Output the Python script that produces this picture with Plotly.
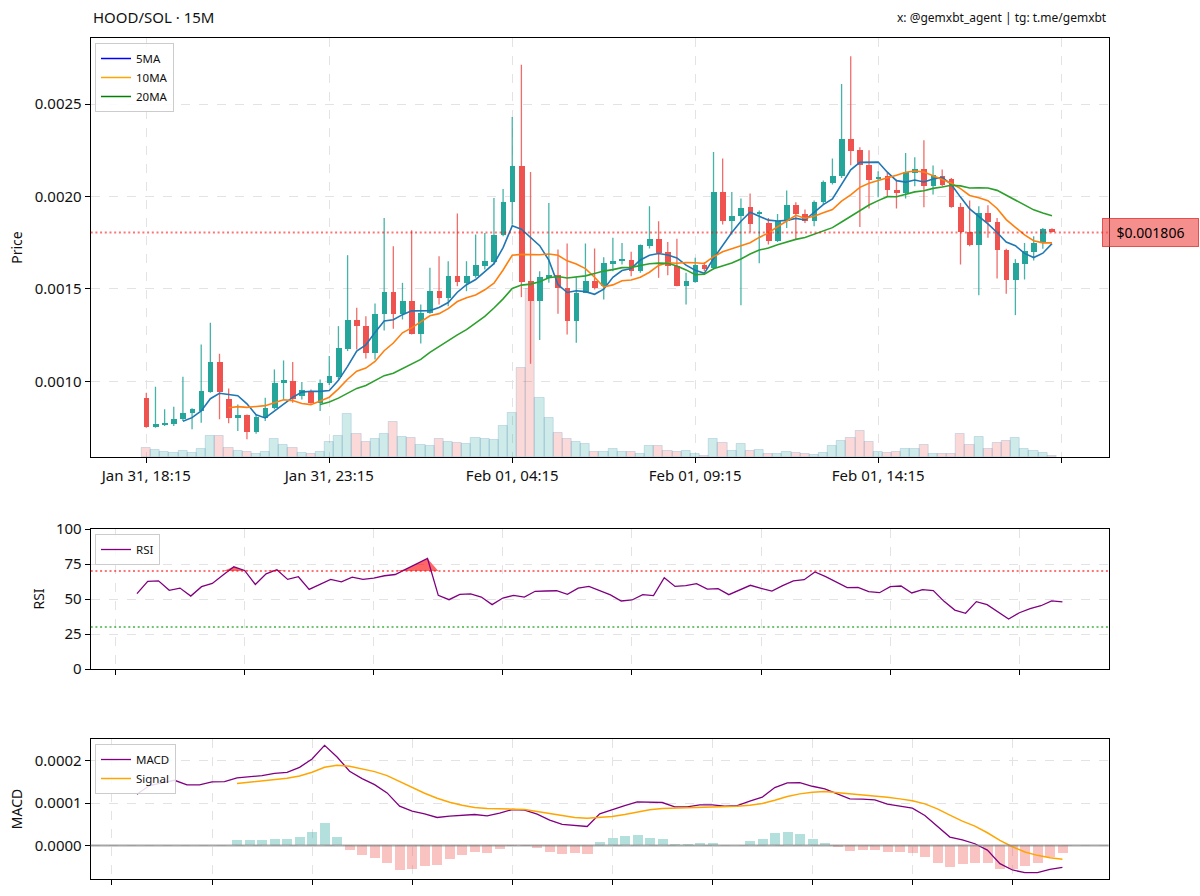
import numpy as np
import pandas as pd
import plotly.graph_objects as go

# ---------------- data ----------------
title_text = "HOOD/SOL · 15M"
credit_text = "x: @gemxbt_agent | tg: t.me/gemxbt"
x_tick_pos = [0, 20, 40, 60, 80, 100]
x_tick_labels = ["Jan 31, 18:15", "Jan 31, 23:15", "Feb 01, 04:15",
                 "Feb 01, 09:15", "Feb 01, 14:15", ""]

# prices in micro units (x 1e-6)
open_u = [908.1, 753.2, 764.0, 771.2, 794.6, 830.6, 839.6, 944.1, 1106.3, 906.3,
          800.0, 818.0, 726.1, 803.6, 857.7, 991.0, 1001.8, 920.7, 947.7, 881.1,
          989.2, 1025.2, 1173.0, 1329.7, 1297.3, 1155.0, 1365.8, 1484.7, 1362.2, 1434.2,
          1257.7, 1369.4, 1488.3, 1448.6, 1569.4, 1533.3, 1569.4, 1627.0, 1646.8, 1794.6,
          1969.4, 2164.0, 1542.3, 1434.2, 1560.4, 1578.4, 1502.7, 1326.1, 1479.3, 1542.3,
          1515.3, 1636.0, 1650.4, 1659.5, 1596.4, 1731.5, 1769.4, 1700.9, 1623.4, 1515.3,
          1538.7, 1632.4, 1614.4, 2025.2, 1866.7, 1893.7, 1942.3, 1908.1, 1857.7, 1762.2,
          1866.7, 1956.8, 1906.3, 1866.7, 1969.4, 2073.9, 2109.9, 2311.7, 2252.3, 2173.0,
          2097.3, 2109.9, 2037.8, 2018.0, 2127.9, 2151.3, 2055.9, 2109.9, 2097.3, 1942.3,
          1807.2, 1736.9, 1913.5, 1863.1, 1713.5, 1547.7, 1637.8, 1700.9, 1749.5, 1827.0]
high_u = [938.7, 971.2, 848.7, 863.1, 1025.2, 854.1, 1200.0, 1317.1, 1149.5, 962.2,
          875.7, 821.6, 821.6, 911.7, 1064.9, 1113.5, 1104.5, 996.4, 956.8, 1010.8,
          1136.9, 1299.1, 1682.9, 1398.2, 1353.2, 1421.6, 1884.7, 1731.5, 1533.3, 1818.0,
          1416.2, 1614.4, 1677.5, 1650.4, 1908.1, 1650.4, 1794.6, 1803.6, 1992.8, 2041.4,
          2430.6, 2713.5, 2133.3, 1596.4, 1965.8, 1713.5, 1745.9, 1564.0, 1745.9, 1718.9,
          1672.1, 1776.6, 1749.5, 1700.9, 1740.5, 1947.7, 1866.7, 1754.9, 1771.2, 1587.4,
          1668.5, 1645.0, 2241.4, 2205.4, 2025.2, 1989.2, 2016.2, 1924.3, 1884.7, 1906.3,
          2032.4, 1969.4, 1929.7, 1978.4, 2086.5, 2205.4, 2609.0, 2758.6, 2266.7, 2250.4,
          2136.9, 2127.9, 2091.9, 2236.0, 2212.6, 2304.5, 2167.6, 2145.9, 2100.9, 1965.8,
          1978.4, 1947.7, 1953.2, 1884.7, 1717.1, 1661.3, 1749.5, 1785.6, 1830.6, 1828.0]
low_u = [749.6, 749.6, 758.6, 758.6, 785.6, 740.5, 776.6, 938.7, 794.6, 773.0,
         731.5, 686.5, 717.1, 785.6, 848.7, 902.7, 884.7, 902.7, 875.7, 839.6,
         980.2, 1010.8, 1164.0, 1173.0, 1124.3, 1118.9, 1275.7, 1284.7, 1335.1, 1254.1,
         1205.4, 1365.8, 1416.2, 1407.2, 1515.3, 1488.3, 1560.4, 1605.4, 1632.4, 1785.6,
         1848.6, 1455.9, 1095.5, 1223.4, 1533.3, 1365.8, 1254.1, 1209.0, 1479.3, 1497.3,
         1443.2, 1596.4, 1632.4, 1569.4, 1587.4, 1718.9, 1560.4, 1574.8, 1515.3, 1416.2,
         1533.3, 1596.4, 1605.4, 1848.6, 1794.6, 1412.6, 1809.0, 1639.6, 1740.5, 1754.9,
         1830.6, 1769.4, 1857.7, 1839.6, 1956.8, 2064.9, 2100.9, 2169.4, 1836.0, 1935.1,
         1996.4, 2001.8, 1935.1, 1989.2, 2055.9, 1942.3, 2010.8, 2055.9, 1940.0, 1632.4,
         1731.5, 1466.7, 1776.6, 1556.8, 1473.9, 1358.6, 1551.4, 1654.0, 1717.1, 1805.0]
close_u = [753.2, 767.6, 774.8, 798.2, 830.6, 848.7, 947.7, 1106.3, 944.1, 800.0,
           816.2, 727.9, 809.0, 857.7, 992.8, 1005.4, 902.7, 951.4, 881.1, 989.2,
           1028.8, 1178.4, 1329.7, 1297.3, 1155.0, 1365.8, 1484.7, 1365.8, 1434.2, 1257.7,
           1369.4, 1488.3, 1448.6, 1569.4, 1536.9, 1573.0, 1628.8, 1650.4, 1794.6, 1971.2,
           2164.0, 1538.7, 1434.2, 1564.0, 1578.4, 1502.7, 1326.1, 1479.3, 1542.3, 1506.3,
           1639.6, 1650.4, 1661.3, 1596.4, 1736.9, 1769.4, 1695.5, 1623.4, 1515.3, 1542.3,
           1632.4, 1609.0, 2025.2, 1866.7, 1893.7, 1938.7, 1852.3, 1915.3, 1762.2, 1870.3,
           1956.8, 1906.3, 1870.3, 1971.2, 2079.3, 2111.7, 2311.7, 2248.6, 2173.0, 2091.9,
           2108.1, 2037.8, 2019.8, 2133.3, 2149.5, 2055.9, 2115.3, 2064.9, 1942.3, 1807.2,
           1736.9, 1913.5, 1861.3, 1709.9, 1547.7, 1639.6, 1704.5, 1749.5, 1827.0, 1806.0]
volume_k = [28, 21, 15, 12, 17, 12, 24, 63, 63, 27,
            18, 15, 8, 15, 53, 37, 28, 12, 9, 15,
            45, 63, 128, 68, 46, 53, 68, 105, 61, 58,
            35, 32, 54, 45, 41, 40, 58, 54, 52, 93,
            131, 268, 503, 176, 118, 71, 54, 45, 38, 15,
            15, 24, 15, 15, 10, 33, 33, 18, 15, 18,
            8, 3, 53, 43, 18, 38, 18, 21, 10, 10,
            15, 11, 8, 6, 13, 33, 48, 58, 78, 45,
            15, 11, 15, 23, 23, 35, 10, 10, 10, 68,
            36, 61, 23, 41, 48, 58, 25, 18, 13, 2]
rsi_values = [53.8, 62.6, 63.0, 56.2, 57.8, 52.1, 58.8, 61.1, 67.1, 73.0,
              70.4, 60.4, 68.0, 70.9, 64.0, 65.9, 56.9, 60.4, 64.0, 62.3,
              65.6, 64.0, 64.9, 66.6, 67.5, 71.3, 75.1, 78.9, 52.6, 49.5,
              53.3, 53.6, 51.4, 46.0, 50.7, 52.6, 51.4, 55.5, 55.7, 55.9,
              53.3, 57.8, 59.0, 55.7, 52.9, 48.6, 49.3, 53.1, 52.4, 65.2,
              59.0, 59.5, 61.0, 57.1, 57.4, 53.1, 56.4, 59.8, 57.6, 55.7,
              59.5, 62.9, 63.8, 69.3, 66.0, 62.1, 58.1, 58.3, 55.2, 54.5,
              58.8, 59.3, 54.3, 56.7, 56.0, 48.3, 42.1, 39.8, 48.1, 46.0,
              40.7, 35.7, 40.2, 43.1, 45.2, 48.6, 47.9]
# MACD values in units of 1e-4
macd_e4 = [1.208, 1.412, 1.475, 1.537, 1.427, 1.427, 1.498, 1.506, 1.592, 1.624,
           1.647, 1.702, 1.725, 1.843, 2.039, 2.361, 2.086, 1.749, 1.576, 1.435,
           1.239, 0.925, 0.808, 0.745, 0.659, 0.690, 0.714, 0.729, 0.698, 0.761,
           0.847, 0.831, 0.737, 0.596, 0.494, 0.478, 0.447, 0.745, 0.847, 0.941,
           1.027, 1.020, 1.012, 0.910, 0.910, 0.957, 0.957, 0.925, 0.941, 1.043,
           1.137, 1.365, 1.475, 1.482, 1.396, 1.333, 1.216, 1.098, 1.090, 1.075,
           0.973, 0.933, 0.878, 0.706, 0.455, 0.196, 0.133, 0.039, -0.110, -0.431,
           -0.580, -0.643, -0.643, -0.565, -0.518]
signal_start = 8
signal_e4 = [1.459, 1.490, 1.522, 1.553, 1.584, 1.639, 1.725, 1.843, 1.890, 1.867,
             1.812, 1.741, 1.647, 1.506, 1.365, 1.231, 1.114, 1.020, 0.949, 0.894,
             0.871, 0.855, 0.855, 0.847, 0.808, 0.753, 0.706, 0.659, 0.643, 0.663,
             0.682, 0.729, 0.792, 0.839, 0.871, 0.878, 0.886, 0.902, 0.910, 0.918,
             0.925, 0.949, 0.988, 1.067, 1.153, 1.216, 1.255, 1.271, 1.247, 1.224,
             1.200, 1.176, 1.137, 1.098, 1.051, 0.980, 0.863, 0.714, 0.573, 0.455,
             0.298, 0.118, -0.031, -0.157, -0.235, -0.290, -0.329]
rsi_tick_pos = [-2, 10, 22, 34, 46, 58, 70, 82]
macd_tick_pos = list(range(-2, 79, 8))

# ---------------- derived ----------------
o = np.array(open_u) * 1e-6
h = np.array(high_u) * 1e-6
l = np.array(low_u) * 1e-6
c = np.array(close_u) * 1e-6
vol = np.array(volume_k, dtype=float)
n = len(c)
idx = np.arange(n)
up = c >= o

closes = pd.Series(c)
ma5 = closes.rolling(5).mean()
ma10 = closes.rolling(10).mean()
ma20 = closes.rolling(20).mean()

rsi = np.array(rsi_values)
rsi_x = np.arange(len(rsi))
macd = np.array(macd_e4) * 1e-4
macd_x = np.arange(len(macd))
signal = np.array(signal_e4) * 1e-4
signal_x = macd_x[signal_start:]
hist = macd[signal_start:] - signal

GREEN = "#26a69a"
RED = "#ef5350"
FONT = "Noto Sans"

fig = go.Figure()

# volume (base axis, behind candles)
fig.add_trace(go.Bar(
    x=idx, y=vol, width=1.0, xaxis="x", yaxis="y",
    marker=dict(color=np.where(up, "rgba(38,166,154,0.22)", "rgba(239,83,80,0.22)"),
                line=dict(color="rgba(70,130,180,0.22)", width=1)),
    showlegend=False, hoverinfo="skip"))

# wicks
for mask, col in ((up, "rgba(38,166,154,0.85)"), (~up, "rgba(239,83,80,0.85)")):
    xs, ys = [], []
    for i in idx[mask]:
        xs += [i, i, None]
        ys += [l[i], h[i], None]
    fig.add_trace(go.Scatter(x=xs, y=ys, mode="lines", xaxis="x", yaxis="y2",
                             line=dict(color=col, width=1.3),
                             showlegend=False, hoverinfo="skip"))

# bodies
body_base = np.minimum(o, c)
body_h = np.maximum(np.abs(c - o), 4e-6)
for mask, col in ((up, GREEN), (~up, RED)):
    fig.add_trace(go.Bar(x=idx[mask], y=body_h[mask], base=body_base[mask], width=0.62,
                         xaxis="x", yaxis="y2", marker=dict(color=col, line=dict(width=0)),
                         showlegend=False, hoverinfo="skip"))

# moving averages
for s, col in ((ma5, "#1f77b4"), (ma10, "#ff7f0e"), (ma20, "#2ca02c")):
    fig.add_trace(go.Scatter(x=idx, y=s, mode="lines", xaxis="x", yaxis="y2",
                             line=dict(color=col, width=1.6), showlegend=False))
# legend handles
for name, col in (("5MA", "blue"), ("10MA", "orange"), ("20MA", "green")):
    fig.add_trace(go.Scatter(x=[None], y=[None], mode="lines", name=name, xaxis="x", yaxis="y2",
                             line=dict(color=col, width=1.5), legend="legend"))

# RSI fills + line
fig.add_trace(go.Scatter(x=rsi_x, y=np.full(len(rsi), 70.0), mode="lines", xaxis="x2", yaxis="y3",
                         line=dict(width=0, color="rgba(0,0,0,0)"), showlegend=False, hoverinfo="skip"))
fig.add_trace(go.Scatter(x=rsi_x, y=np.maximum(rsi, 70), mode="lines", xaxis="x2", yaxis="y3",
                         fill="tonexty", fillcolor="rgba(255,0,0,0.6)",
                         line=dict(width=0, color="rgba(0,0,0,0)"), showlegend=False, hoverinfo="skip"))
fig.add_trace(go.Scatter(x=rsi_x, y=np.full(len(rsi), 30.0), mode="lines", xaxis="x2", yaxis="y3",
                         line=dict(width=0, color="rgba(0,0,0,0)"), showlegend=False, hoverinfo="skip"))
fig.add_trace(go.Scatter(x=rsi_x, y=np.minimum(rsi, 30), mode="lines", xaxis="x2", yaxis="y3",
                         fill="tonexty", fillcolor="rgba(0,160,0,0.5)",
                         line=dict(width=0, color="rgba(0,0,0,0)"), showlegend=False, hoverinfo="skip"))
fig.add_trace(go.Scatter(x=rsi_x, y=rsi, mode="lines", name="RSI", xaxis="x2", yaxis="y3",
                         line=dict(color="purple", width=1.3), legend="legend2"))

# MACD
fig.add_trace(go.Bar(x=signal_x, y=hist, width=0.8, xaxis="x3", yaxis="y4",
                     marker=dict(color=np.where(hist >= 0, "rgba(38,166,154,0.35)", "rgba(239,83,80,0.35)"),
                                 line=dict(width=0)),
                     showlegend=False, hoverinfo="skip"))
fig.add_trace(go.Scatter(x=macd_x, y=macd, mode="lines", name="MACD", xaxis="x3", yaxis="y4",
                         line=dict(color="purple", width=1.3), legend="legend3"))
fig.add_trace(go.Scatter(x=signal_x, y=signal, mode="lines", name="Signal", xaxis="x3", yaxis="y4",
                         line=dict(color="orange", width=1.5), legend="legend3"))

# ---------------- layout ----------------
W, H = 1200, 896
XD = [90.7 / W, 1108.7 / W]
PRICE_D = [1 - 457 / H, 1 - 38 / H]
RSI_D = [1 - 669 / H, 1 - 529 / H]
MACD_D = [1 - 879 / H, 1 - 739 / H]

grid = dict(showgrid=True, gridcolor="#e3e3e3", griddash="dash", gridwidth=1)
frame = dict(showline=True, linecolor="black", linewidth=1, mirror=True,
             ticks="outside", ticklen=5, tickcolor="black", zeroline=False)
tickfont = dict(family=FONT, size=15, color="#111")
axis_title_font = dict(family=FONT, size=14, color="#111")

legend_style = dict(xanchor="left", yanchor="top", bgcolor="rgba(255,255,255,0.85)",
                    bordercolor="#cccccc", borderwidth=1, font=dict(family=FONT, size=11.5, color="#111"),
                    itemwidth=30, tracegroupgap=0, traceorder="normal")

fig.update_layout(
    width=W, height=H, margin=dict(l=0, r=0, t=0, b=0),
    paper_bgcolor="white", plot_bgcolor="white",
    font=dict(family=FONT, size=13, color="#111"),
    barmode="overlay", bargap=0,
    xaxis=dict(domain=XD, anchor="y", range=[-6.08, 105.2], tickvals=x_tick_pos,
               ticktext=x_tick_labels, tickfont=tickfont, automargin=False, **grid, **frame),
    yaxis=dict(domain=PRICE_D, anchor="x", range=[0, vol.max() * 2.5], visible=False,
               fixedrange=True),
    yaxis2=dict(overlaying="y", anchor="x", side="left", range=[0.000591, 0.002858],
                tickvals=[0.0010, 0.0015, 0.0020, 0.0025], tickformat=".4f", tickfont=tickfont,
                title=dict(text="Price", font=axis_title_font, standoff=8),
                automargin=False, **grid, **frame),
    xaxis2=dict(domain=XD, anchor="y3", range=[-4.3, 90.3], tickvals=rsi_tick_pos,
                showticklabels=False, automargin=False, **grid, **frame),
    yaxis3=dict(domain=RSI_D, anchor="x2", range=[0, 100], tickvals=[0, 25, 50, 75, 100],
                tickfont=tickfont, title=dict(text="RSI", font=axis_title_font, standoff=8),
                automargin=False, **grid, **frame),
    xaxis3=dict(domain=XD, anchor="y4", range=[-3.7, 77.7], tickvals=macd_tick_pos,
                showticklabels=False, automargin=False, **grid, **frame),
    yaxis4=dict(domain=MACD_D, anchor="x3", range=[-0.0000793, 0.0002511],
                tickvals=[0.0, 0.0001, 0.0002], tickformat=".4f", tickfont=tickfont,
                title=dict(text="MACD", font=axis_title_font, standoff=8),
                automargin=False, **grid, **frame),
    legend=dict(x=95 / W, y=1 - 43 / H, **legend_style),
    legend2=dict(x=95 / W, y=1 - 534 / H, **legend_style),
    legend3=dict(x=95 / W, y=1 - 744 / H, **legend_style),
    shapes=[
        dict(type="line", xref="x domain", x0=0, x1=1, yref="y2", y0=c[-1], y1=c[-1],
             line=dict(color="rgba(255,0,0,0.55)", width=2, dash="2px,2.7px")),
        dict(type="line", xref="x2 domain", x0=0, x1=1, yref="y3", y0=70, y1=70,
             line=dict(color="rgba(255,0,0,0.55)", width=2, dash="2px,2.7px")),
        dict(type="line", xref="x2 domain", x0=0, x1=1, yref="y3", y0=30, y1=30,
             line=dict(color="rgba(0,150,0,0.55)", width=2, dash="2px,2.7px")),
        dict(type="line", xref="x3 domain", x0=0, x1=1, yref="y4", y0=0, y1=0,
             line=dict(color="rgba(128,128,128,0.7)", width=2)),
    ],
    annotations=[
        dict(text=title_text, xref="paper", yref="paper", x=XD[0], y=1 - 17 / H,
             xanchor="left", yanchor="middle", showarrow=False,
             font=dict(family=FONT, size=15, color="#111")),
        dict(text=credit_text, xref="paper", yref="paper", x=XD[1], y=1 - 17 / H,
             xanchor="right", yanchor="middle", showarrow=False,
             font=dict(family=FONT, size=12, color="#111")),
        dict(text=f"${c[-1]:.6f}", xref="paper", yref="y2", x=1102 / W, y=c[-1],
             xanchor="left", yanchor="middle", showarrow=False, width=87, height=19,
             bgcolor="rgba(239,83,80,0.65)", bordercolor="rgba(220,40,40,0.75)", borderwidth=1,
             borderpad=4, font=dict(family=FONT, size=14, color="black")),
    ],
)

fig.write_html("out.html", config={"displayModeBar": False},
               post_script="document.body.style.margin='0';")
